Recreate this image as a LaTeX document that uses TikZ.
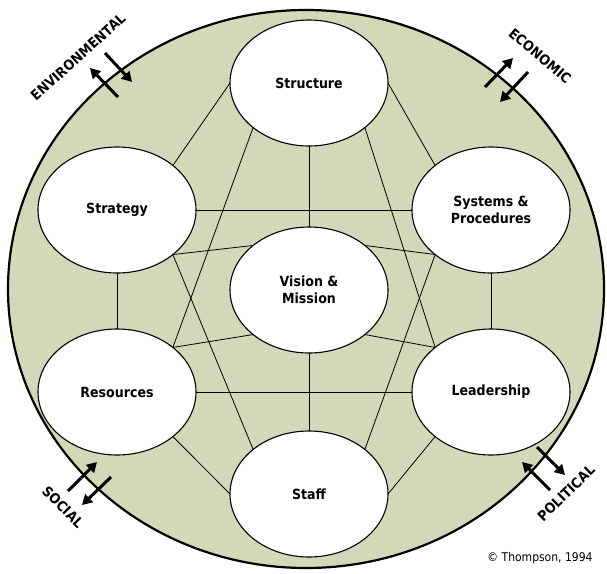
\documentclass[tikz,border=0pt]{standalone}
\usepackage{fontspec}
\setmainfont{DejaVu Sans}[FakeStretch=0.9]
\usetikzlibrary{shapes.geometric,arrows.meta}
\pgfdeclarelayer{background}
\pgfsetlayers{background,main}
\definecolor{olivebg}{RGB}{213,216,184}
\begin{document}
\begin{tikzpicture}[x=1pt,y=-1pt,
  elem/.style={ellipse, draw, line width=1.1pt, fill=white, minimum width=158pt, minimum height=126pt, inner sep=0pt, outer sep=0pt, font=\bfseries\fontsize{14}{17.5}\selectfont, align=center},
  link/.style={line width=0.8pt},
  force/.style={line width=3pt, -{Triangle[length=10pt,width=11pt]}},
  envlab/.style={font=\bfseries\fontsize{14}{16}\selectfont, inner sep=0pt}]
\useasboundingbox (0,0) rectangle (607,573);

\node[elem] (structure) at (309,83) {Structure};
\node[elem] (strategy) at (117,210) {Strategy};
\node[elem] (systems) at (491,210) {Systems \&\\Procedures};
\node[elem] (vision) at (309,290) {Vision \&\\Mission};
\node[elem] (resources) at (117,392) {Resources};
\node[elem] (leadership) at (491,392) {Leadership};
\node[elem] (staff) at (309,494) {Staff};

\begin{pgfonlayer}{background}
\fill[olivebg] (306,289) ellipse [x radius=298, y radius=279];
\draw[line width=2.2pt] (306,289) ellipse [x radius=298, y radius=279];
\draw[link] (strategy.north east) -- (structure.west);
\draw[link] (structure.east) -- (systems.north west);
\draw[link] (strategy.south) -- (resources.north);
\draw[link] (systems.south) -- (leadership.north);
\draw[link] (resources.south east) -- (staff.west);
\draw[link] (staff.east) -- (leadership.south west);
\draw[link] (structure.south west) -- (resources.north east);
\draw[link] (structure.south east) -- (leadership.north west);
\draw[link] (resources.east) -- (leadership.west);
\draw[link] (strategy.east) -- (systems.west);
\draw[link] (strategy.south east) -- (staff.north west);
\draw[link] (systems.south west) -- (staff.north east);
\draw[link] (vision.north) -- (structure.south);
\draw[link] (vision.south) -- (staff.north);
\draw[link] (vision.north west) -- (strategy.south east);
\draw[link] (vision.north east) -- (systems.south west);
\draw[link] (vision.south west) -- (resources.north east);
\draw[link] (vision.south east) -- (leadership.north west);
\end{pgfonlayer}

% environmental forces
\coordinate (envOutS) at (118,97);  \coordinate (envOutT) at (90,68);
\coordinate (envInS) at (105,53);   \coordinate (envInT) at (132,82);
\coordinate (ecoOutS) at (485,87);  \coordinate (ecoOutT) at (513,58);
\coordinate (ecoInS) at (528,72);   \coordinate (ecoInT) at (500,102);
\coordinate (socInS) at (68,491);   \coordinate (socInT) at (97,462);
\coordinate (socOutS) at (111,477); \coordinate (socOutT) at (82,505);
\coordinate (polInS) at (550,490);  \coordinate (polInT) at (522,462);
\coordinate (polOutS) at (537,447); \coordinate (polOutT) at (565,475);
\draw[force] (envOutS) -- (envOutT);
\draw[force] (envInS) -- (envInT);
\draw[force] (ecoOutS) -- (ecoOutT);
\draw[force] (ecoInS) -- (ecoInT);
\draw[force] (socInS) -- (socInT);
\draw[force] (socOutS) -- (socOutT);
\draw[force] (polInS) -- (polInT);
\draw[force] (polOutS) -- (polOutT);

\node[envlab, rotate=42] (envlabel) at (78,57) {ENVIRONMENTAL};
\node[envlab, rotate=-40] (ecolabel) at (540,56) {ECONOMIC};
\node[envlab, rotate=-45] (soclabel) at (63,507) {SOCIAL};
\node[envlab, rotate=44] (pollabel) at (566,493) {POLITICAL};

\node[font=\fontsize{12}{14}\selectfont, inner sep=0pt] (credit) at (540,558) {© Thompson, 1994};
\end{tikzpicture}
\end{document}
